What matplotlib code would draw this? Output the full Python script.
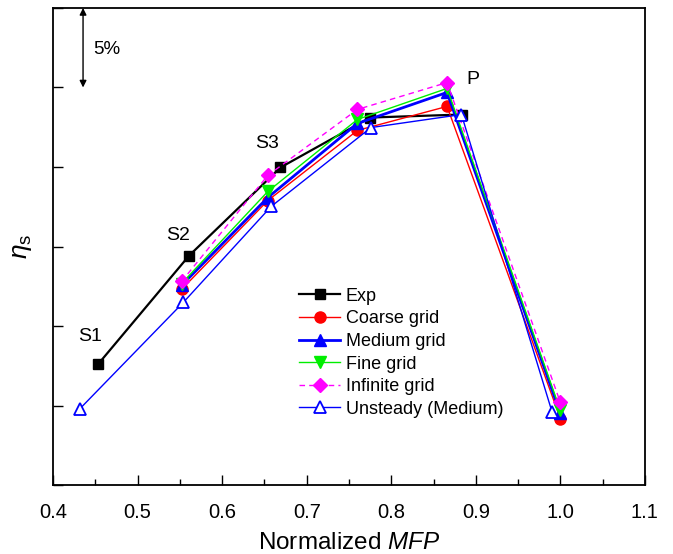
import matplotlib
matplotlib.use("Agg")
import matplotlib.pyplot as plt
from matplotlib.ticker import MultipleLocator, NullFormatter

plt.rcParams['font.family'] = ['Liberation Sans', 'DejaVu Sans']
plt.rcParams['mathtext.fontset'] = 'custom'
plt.rcParams['mathtext.rm'] = 'Liberation Sans'
plt.rcParams['mathtext.it'] = 'Liberation Sans:italic'

# Data (eta_s in %, arbitrary offset; one y tick = 5%)
exp_x = [0.453, 0.561, 0.669, 0.775, 0.884]
exp_y = [82.58, 89.43, 94.97, 98.11, 98.30]

cfd_x = [0.552, 0.654, 0.760, 0.866, 1.000]
coarse_y = [87.30, 92.89, 97.30, 98.81, 79.18]
medium_y = [87.55, 93.08, 97.74, 99.69, 79.50]
fine_y = [87.67, 93.46, 97.99, 99.94, 79.69]
infinite_y = [87.80, 94.47, 98.62, 100.31, 80.19]

unsteady_x = [0.432, 0.554, 0.658, 0.776, 0.883, 0.990]
unsteady_y = [79.81, 86.48, 92.52, 97.48, 98.30, 79.62]

point_labels = ["S1", "S2", "S3", "P"]

fig = plt.figure(figsize=(6.73, 5.54), dpi=100)
ax = fig.add_axes([0.0788, 0.1245, 0.8795, 0.8611])

ax.plot(exp_x, exp_y, color='black', lw=1.6, marker='s', ms=7, label='Exp', zorder=3)
ax.plot(cfd_x, coarse_y, color='red', lw=1.0, marker='o', ms=8, label='Coarse grid', zorder=4)
ax.plot(cfd_x, medium_y, color='blue', lw=2.0, marker='^', ms=8, label='Medium grid', zorder=5)
ax.plot(cfd_x, fine_y, color='#00ee00', lw=1.0, marker='v', ms=8, label='Fine grid', zorder=6)
ax.plot(cfd_x, infinite_y, color='magenta', lw=1.0, ls=(0, (4, 3)), marker='D', ms=7,
        label='Infinite grid', zorder=7)
ax.plot(unsteady_x, unsteady_y, color='blue', lw=1.0, marker='^', ms=9, mfc='white',
        mec='blue', mew=1.3, label='Unsteady (Medium)', zorder=8)

ax.set_xlim(0.4, 1.1)
ax.set_ylim(75, 105)
ax.xaxis.set_major_locator(MultipleLocator(0.1))
ax.xaxis.set_minor_locator(MultipleLocator(0.05))
ax.yaxis.set_major_locator(MultipleLocator(5))
ax.yaxis.set_major_formatter(NullFormatter())
ax.tick_params(axis='both', which='both', direction='in', top=False, right=False)
ax.tick_params(axis='x', which='major', length=7, width=1, labelsize=14.5, pad=13)
ax.tick_params(axis='x', which='minor', length=4, width=1)
ax.tick_params(axis='y', which='major', length=7, width=1)
for s in ax.spines.values():
    s.set_linewidth(1.3)

ax.set_xlabel('Normalized $\\mathit{MFP}$', fontsize=17.5, labelpad=7)
ax.set_ylabel('$\\eta_\\mathrm{s}$', fontsize=19, labelpad=10)

# point labels
ax.text(0.444, 84.35, point_labels[0], fontsize=14, ha='center', va='center')
ax.text(0.548, 90.7, point_labels[1], fontsize=14, ha='center', va='center')
ax.text(0.653, 96.5, point_labels[2], fontsize=14, ha='center', va='center')
ax.text(0.897, 100.5, point_labels[3], fontsize=14, ha='center', va='center')

# 5% arrow
ax.annotate('', xy=(0.4355, 100.0), xytext=(0.4355, 105.0),
            arrowprops=dict(arrowstyle='<|-|>', color='black', lw=1.0,
                            shrinkA=0, shrinkB=0, mutation_scale=10))
ax.text(0.447, 102.4, '5%', fontsize=13.5, ha='left', va='center')

ax.legend(loc='upper left', bbox_to_anchor=(0.395, 0.44), frameon=False, fontsize=13,
          handlelength=2.27, labelspacing=0.31, handletextpad=0.28, borderpad=0.2)

fig.savefig('out.png', dpi=100)
